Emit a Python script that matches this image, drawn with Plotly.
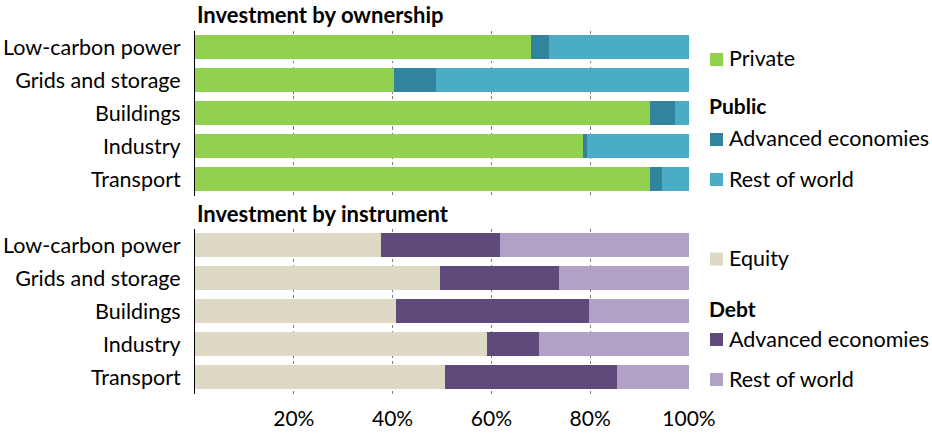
import plotly.graph_objects as go

# categories (top to bottom)
sectors = ["Low-carbon power", "Grids and storage", "Buildings", "Industry", "Transport"]

# Investment by ownership (% share)
private = [68.0, 40.2, 92.1, 78.5, 92.1]
public_adv = [3.6, 8.6, 5.1, 0.9, 2.5]
public_row = [28.4, 51.2, 2.8, 20.6, 5.4]

# Investment by instrument (% share)
equity = [37.7, 49.5, 40.7, 59.2, 50.7]
debt_adv = [24.0, 24.2, 39.1, 10.4, 34.8]
debt_row = [38.3, 26.3, 20.2, 30.4, 14.5]

tick_vals = [20, 40, 60, 80, 100]
tick_text = ["20%", "40%", "60%", "80%", "100%"]

W, H = 932, 436
L, R = 195, 689
FONT = "Lato"


def px_x(px):
    return (px - L) / (R - L)


def px_y(py):
    return 1 - py / H


fig = go.Figure()

top = [("Private", private, "#92D050"),
       ("Public - Advanced economies", public_adv, "#31849B"),
       ("Public - Rest of world", public_row, "#4BACC6")]
bottom = [("Equity", equity, "#DDD9C4"),
          ("Debt - Advanced economies", debt_adv, "#604A7B"),
          ("Debt - Rest of world", debt_row, "#B2A1C7")]

for name, vals, col in top:
    fig.add_trace(go.Bar(y=sectors, x=vals, orientation="h", name=name,
                         marker=dict(color=col, line=dict(width=0)),
                         xaxis="x", yaxis="y", showlegend=False))
for name, vals, col in bottom:
    fig.add_trace(go.Bar(y=sectors, x=vals, orientation="h", name=name,
                         marker=dict(color=col, line=dict(width=0)),
                         xaxis="x2", yaxis="y2", showlegend=False))

xcommon = dict(range=[0, 100], tickvals=tick_vals, ticktext=tick_text,
               showgrid=True, gridcolor="#7f7f7f", griddash="dot", gridwidth=1.2,
               zeroline=False, showline=False, ticks="", automargin=False,
               tickfont=dict(family=FONT, size=21, color="#000"))
ycommon = dict(autorange="reversed", showline=True, linecolor="#000", linewidth=1,
               ticks="", ticklabelstandoff=9, automargin=False, showgrid=False,
               tickfont=dict(family=FONT, size=21.5, color="#000"))

fig.update_layout(
    barmode="stack",
    bargap=0.29,
    width=W, height=H,
    margin=dict(l=L, r=W - R, t=0, b=0),
    paper_bgcolor="white", plot_bgcolor="white",
    font=dict(family=FONT, color="#000"),
    xaxis=dict(domain=[0, 1], anchor="y", showticklabels=False, **xcommon),
    yaxis=dict(domain=[px_y(195.5), px_y(30.5)], anchor="x", **ycommon),
    xaxis2=dict(domain=[0, 1], anchor="y2", showticklabels=True,
                ticklabelstandoff=10, **xcommon),
    yaxis2=dict(domain=[px_y(393.5), px_y(228.5)], anchor="x2", **ycommon),
)

# panel titles
for text, py in [("Investment by ownership", 15), ("Investment by instrument", 213)]:
    fig.add_annotation(x=0, y=px_y(py), xref="paper", yref="paper", text="<b>%s</b>" % text,
                       showarrow=False, xanchor="left", yanchor="middle",
                       font=dict(family=FONT, size=22, color="#000"))

# legend
legend_items = [("Private", "#92D050", 59.5), ("Advanced economies", "#31849B", 139.5),
                ("Rest of world", "#4BACC6", 179.5), ("Equity", "#DDD9C4", 259),
                ("Advanced economies", "#604A7B", 339.5), ("Rest of world", "#B2A1C7", 379.5)]
for text, col, py in legend_items:
    fig.add_shape(type="rect", xref="paper", yref="paper",
                  x0=px_x(710), x1=px_x(723), y0=px_y(py + 6.5), y1=px_y(py - 6.5),
                  fillcolor=col, line=dict(width=0))
    fig.add_annotation(x=px_x(727), y=px_y(py - 1), xref="paper", yref="paper", text=text,
                       showarrow=False, xanchor="left", yanchor="middle",
                       font=dict(family=FONT, size=21.5, color="#000"))
for text, py in [("Public", 106), ("Debt", 309)]:
    fig.add_annotation(x=px_x(707), y=px_y(py - 1), xref="paper", yref="paper",
                       text="<b>%s</b>" % text, showarrow=False, xanchor="left",
                       yanchor="middle", font=dict(family=FONT, size=21, color="#000"))

fig.write_html("out.html", config={"displayModeBar": False},
               post_script="document.body.style.margin='0';")
